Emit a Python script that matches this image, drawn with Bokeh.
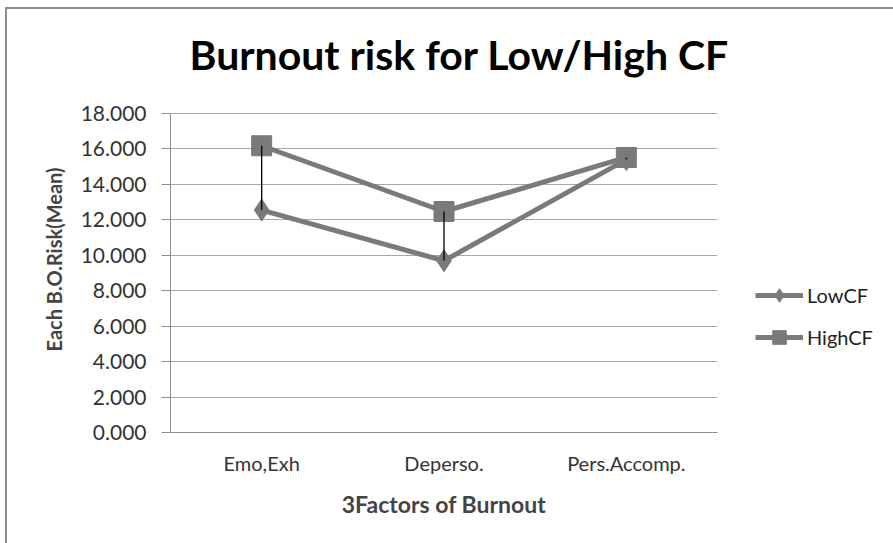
from bokeh.plotting import figure
from bokeh.models import (Legend, LegendItem, FixedTicker, CustomJSTickFormatter,
                          Title, Range1d, Row)
from bokeh.embed import file_html
from bokeh.resources import INLINE

categories = ["Emo,Exh", "Deperso.", "Pers.Accomp."]
low_cf = [12.55, 9.69, 15.40]
high_cf = [16.18, 12.47, 15.52]
y_ticks = [0, 2, 4, 6, 8, 10, 12, 14, 16, 18]
series_names = ["LowCF", "HighCF"]
title_text = "Burnout risk for Low/High CF"

FONT = "Lato"
GRAY = "#7a7a7a"
AXIS = "#8c8c8c"

y_lo, y_hi = min(y_ticks), max(y_ticks)

# layout (canvas px)
H = 534
TOP, BOTTOM = 77, 111          # frame borders top / bottom
LEFT, RIGHT = 163, 30          # main plot borders
PLOT_W = 547                   # category area width
PLOT_H = 319                   # height of the 0..18 span
frame_h = H - TOP - BOTTOM

p = figure(x_range=categories, width=LEFT + PLOT_W + RIGHT, height=H,
           y_range=Range1d(y_lo, y_lo + (y_hi - y_lo) * frame_h / PLOT_H),
           output_backend="svg", toolbar_location=None,
           min_border_left=LEFT, min_border_right=RIGHT,
           min_border_top=TOP, min_border_bottom=BOTTOM)
p.outline_line_color = None
p.x_range.range_padding = 0

p.add_layout(Title(text=title_text, align="left", offset=19, standoff=16,
                   text_font=FONT, text_font_size="41px", text_font_style="bold",
                   text_color="#000000"), "above")

# y axis
p.yaxis.ticker = FixedTicker(ticks=y_ticks)
p.yaxis.bounds = (y_lo, y_hi)
p.yaxis.formatter = CustomJSTickFormatter(code="return tick.toFixed(3);")
p.yaxis.axis_label = "Each B.O.Risk(Mean)"
p.yaxis.axis_label_text_font = FONT
p.yaxis.axis_label_text_font_style = "bold"
p.yaxis.axis_label_text_font_size = "20px"
p.yaxis.axis_label_standoff = 12
p.yaxis.major_label_text_font = FONT
p.yaxis.major_label_text_font_size = "21px"
p.yaxis.major_label_text_color = "#333333"
p.yaxis.axis_line_color = AXIS
p.yaxis.major_tick_line_color = AXIS
p.yaxis.major_tick_out = 9
p.yaxis.major_tick_in = 0
p.yaxis.minor_tick_line_color = None
p.yaxis.major_label_standoff = 15

# x axis
p.xaxis.axis_label = "3Factors of Burnout"
p.xaxis.axis_label_text_font = FONT
p.xaxis.axis_label_text_font_style = "bold"
p.xaxis.axis_label_text_font_size = "23px"
p.xaxis.axis_label_standoff = 12
p.xaxis.major_label_text_font = FONT
p.xaxis.major_label_text_font_size = "20px"
p.xaxis.major_label_text_color = "#333333"
p.xaxis.axis_line_color = AXIS
p.xaxis.major_tick_line_color = None
p.xaxis.major_label_standoff = 12

p.xgrid.grid_line_color = None
p.ygrid.ticker = FixedTicker(ticks=y_ticks)
p.ygrid.grid_line_color = "#a6a6a6"
p.ygrid.grid_line_width = 1

p.line(categories, low_cf, line_color=GRAY, line_width=5)
p.scatter(categories, low_cf, marker="diamond", size=22, fill_color=GRAY, line_color=GRAY)
p.line(categories, high_cf, line_color=GRAY, line_width=5)
p.scatter(categories, high_cf, marker="square", size=20, fill_color=GRAY, line_color=GRAY)
p.segment(x0=categories, y0=low_cf, x1=categories, y1=high_cf,
          line_color="#000000", line_width=1.3)

# legend panel to the right
pl = figure(x_range=categories, y_range=p.y_range, width=886 - (LEFT + PLOT_W + RIGHT),
            height=H, output_backend="svg", toolbar_location=None,
            min_border_left=0, min_border_right=0,
            min_border_top=TOP, min_border_bottom=BOTTOM)
pl.axis.visible = False
pl.grid.visible = False
pl.outline_line_color = None
dl1 = pl.line(categories, low_cf, line_color=GRAY, line_width=5, visible=False)
dm1 = pl.scatter(categories, low_cf, marker="diamond", size=22, fill_color=GRAY,
                 line_color=GRAY, visible=False)
dl2 = pl.line(categories, high_cf, line_color=GRAY, line_width=5, visible=False)
dm2 = pl.scatter(categories, high_cf, marker="square", size=20, fill_color=GRAY,
                 line_color=GRAY, visible=False)

legend = Legend(items=[LegendItem(label=series_names[0], renderers=[dl1, dm1]),
                       LegendItem(label=series_names[1], renderers=[dl2, dm2])],
                location=(8, 78), orientation="vertical",
                label_text_font=FONT, label_text_font_size="20px", label_text_color="#222222",
                glyph_width=48, glyph_height=34, label_height=20, spacing=8,
                padding=0, margin=0, border_line_color=None, background_fill_alpha=0,
                inactive_fill_alpha=0, label_standoff=4)
pl.add_layout(legend, "center")

layout = Row(children=[p, pl], spacing=0)
layout.styles = {"margin-left": "5px", "margin-top": "7px",
                 "border-left": "2px solid #8c8c8c", "border-top": "2px solid #8c8c8c"}

open("out.html", "w").write(file_html(layout, INLINE))
